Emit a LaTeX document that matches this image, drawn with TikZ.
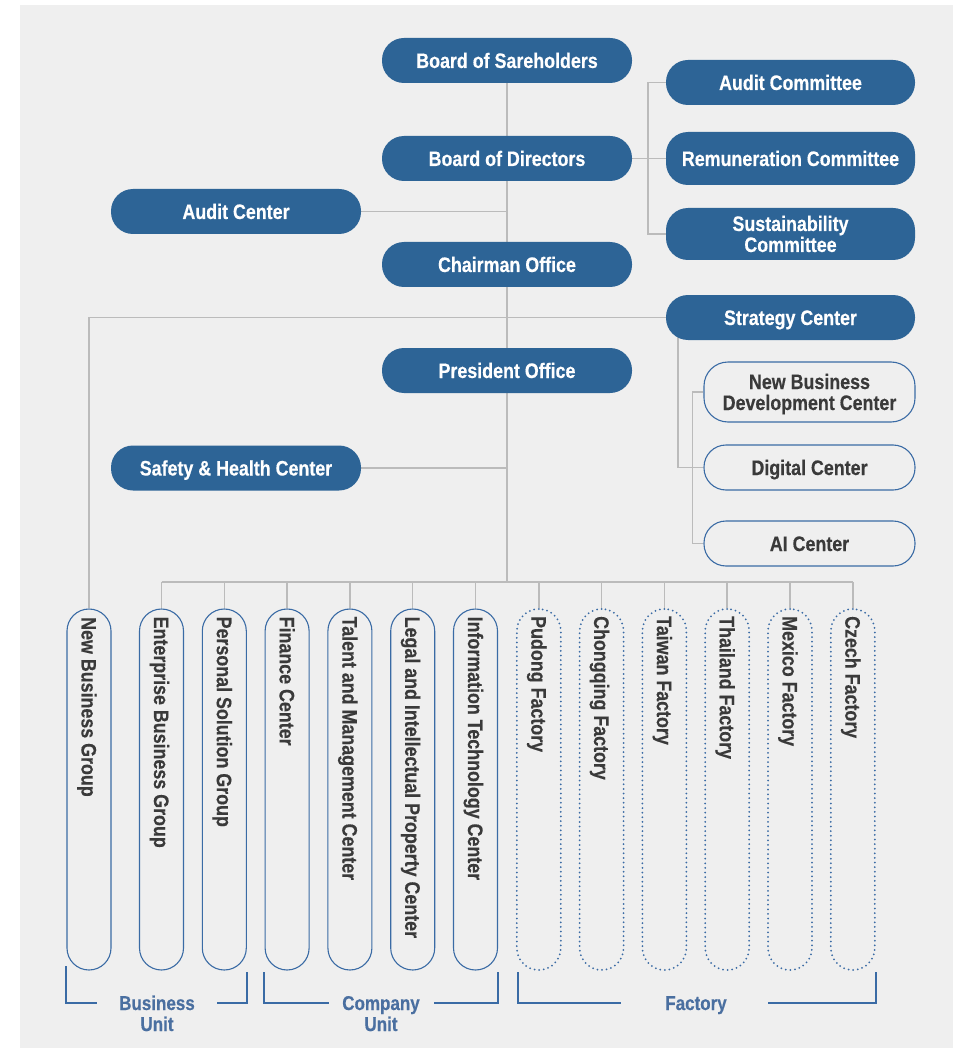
\documentclass[tikz,border=0pt]{standalone}
\usepackage{fontspec}
\setmainfont{Liberation Sans}[FakeStretch=0.85,BoldFeatures={FakeBold=0.4}]
\usetikzlibrary{calc}
\definecolor{bgc}{HTML}{EFEFEF}
\definecolor{nodeblue}{HTML}{2D6496}
\definecolor{edgeblue}{HTML}{3A6BA5}
\definecolor{linegray}{HTML}{BBBBBB}
\definecolor{darktext}{HTML}{3A3A3A}
\definecolor{labelblue}{HTML}{4A6FA0}
\pgfdeclarelayer{back}
\pgfsetlayers{back,main}
\begin{document}
\begin{tikzpicture}[x=1pt,y=-1pt,
  bluebox/.style={fill=nodeblue,text=white,rounded corners=22pt,minimum width=250pt,minimum height=45pt,inner sep=0pt,align=center,text height=15pt,text depth=0pt,font=\fontsize{21}{21}\selectfont\bfseries},
  twoline/.style={text height=36pt,text depth=0pt},
  outbox/.style={draw=edgeblue,line width=1.1pt,fill=bgc,text=darktext,rounded corners=22pt,minimum width=211pt,minimum height=45pt,inner sep=0pt,align=center,text height=15pt,text depth=0pt,font=\fontsize{21}{21}\selectfont\bfseries},
  pill/.style={draw=edgeblue,line width=1.1pt,fill=bgc,rounded corners=22pt,minimum width=44pt,minimum height=361pt,inner sep=0pt},
  dotpill/.style={pill,line width=2pt,dash pattern=on 0pt off 4.6pt,line cap=round},
  vlabel/.style={rotate=-90,anchor=base west,inner sep=0pt,text=darktext,font=\fontsize{21}{21}\selectfont\bfseries},
  grouplabel/.style={inner sep=0pt,align=center,text=labelblue,font=\fontsize{20}{21}\selectfont\bfseries},
  conn/.style={draw=linegray,line width=1.5pt},
  bracket/.style={draw=edgeblue,line width=1.2pt}]
\useasboundingbox (0,0) rectangle (955,1048);
\begin{pgfonlayer}{back}
\fill[bgc] (20,5) rectangle (953,1048);
\end{pgfonlayer}

% top column
\node[bluebox] (bs) at (507,60.5) {Board of Sareholders};
\node[bluebox] (bd) at (507,158.5) {Board of Directors};
\node[bluebox] (ac) at (236,211.5) {Audit Center};
\node[bluebox] (co) at (507,264.5) {Chairman Office};
\node[bluebox] (po) at (507,370.5) {President Office};
\node[bluebox] (sh) at (236,468) {Safety \& Health Center};

% committees
\node[bluebox,minimum width=249pt] (acm) at (790.5,82.5) {Audit Committee};
\node[bluebox,minimum width=249pt,minimum height=53pt] (rcm) at (790.5,158.5) {Remuneration Committee};
\node[bluebox,twoline,minimum width=249pt,minimum height=52pt] (scm) at (790.5,234) {Sustainability\\Committee};
\node[bluebox,minimum width=249pt] (sc) at (790.5,317.5) {Strategy Center};

% strategy sub-units
\node[outbox,twoline,minimum height=60pt,rounded corners=24pt] (nbdc) at (809.5,392) {New Business\\Development Center};
\node[outbox] (dc) at (809.5,467.5) {Digital Center};
\node[outbox] (ai) at (809.5,543.5) {AI Center};

% bottom pills
\node[pill] (p0) at (89,789.5) {};
\node[vlabel] (t0) at (81.5,617) {New Business Group};
\foreach \i/\x/\t in {1/161.5/Enterprise Business Group,2/224.3/Personal Solution Group,3/287.1/Finance Center,4/349.9/Talent and Management Center,5/412.7/Legal and Intellectual Property Center,6/475.5/Information Technology Center}{
  \node[pill] (p\i) at (\x,789.5) {};
  \node[vlabel] (t\i) at ($(p\i.north)+(-7.5,8)$) {\t};
}
\foreach \i/\x/\t in {7/538.8/Pudong Factory,8/601.6/Chongqing Factory,9/664.4/Taiwan Factory,10/727.2/Thailand Factory,11/790/Mexico Factory,12/852.8/Czech Factory}{
  \node[dotpill] (p\i) at (\x,789.5) {};
  \node[vlabel] (t\i) at ($(p\i.north)+(-7.5,8)$) {\t};
}

\coordinate (bus) at (507,582);
\coordinate (sx) at (678,0);

\begin{pgfonlayer}{back}
\draw[conn] (bs.south) -- (bd.north);
\draw[conn] (bd.south) -- (co.north);
\draw[conn] (co.south) -- (po.north);
\draw[conn] (po.south) -- (bus);
\draw[conn] (ac.east) -- (ac.east -| bd.south);
\draw[conn] (sh.east) -- (sh.east -| po.south);
\draw[conn] (bd.east) -- (rcm.west);
\draw[conn] (acm.west) -- ++(-18,0) |- (scm.west);
\draw[conn] (sc.west) -| (p0.north);
\draw[conn] (sc.center -| sx) |- (dc.west);
\draw[conn] (nbdc.west) -- ++(-11,0) |- (ai.west);
\draw[conn] (p1.north |- bus) -- (p12.north |- bus);
\foreach \i in {1,...,12}{\draw[conn] (p\i.north) -- (p\i.north |- bus);}
\end{pgfonlayer}

% group brackets
\node[grouplabel,anchor=base] (lbu) at (157,1031) {Business\\Unit};
\node[grouplabel,anchor=base] (lcu) at (381,1031) {Company\\Unit};
\node[grouplabel,anchor=base] (lfa) at (696,1010) {Factory};
\draw[bracket] (66,966) -- (66,1003) -- (97,1003);
\draw[bracket] (217,1003) -- (247,1003) -- (247,972);
\draw[bracket] (264,972) -- (264,1003) -- (329,1003);
\draw[bracket] (434,1003) -- (498,1003) -- (498,972);
\draw[bracket] (518,972) -- (518,1003) -- (621,1003);
\draw[bracket] (768,1003) -- (876,1003) -- (876,972);
\end{tikzpicture}
\end{document}
